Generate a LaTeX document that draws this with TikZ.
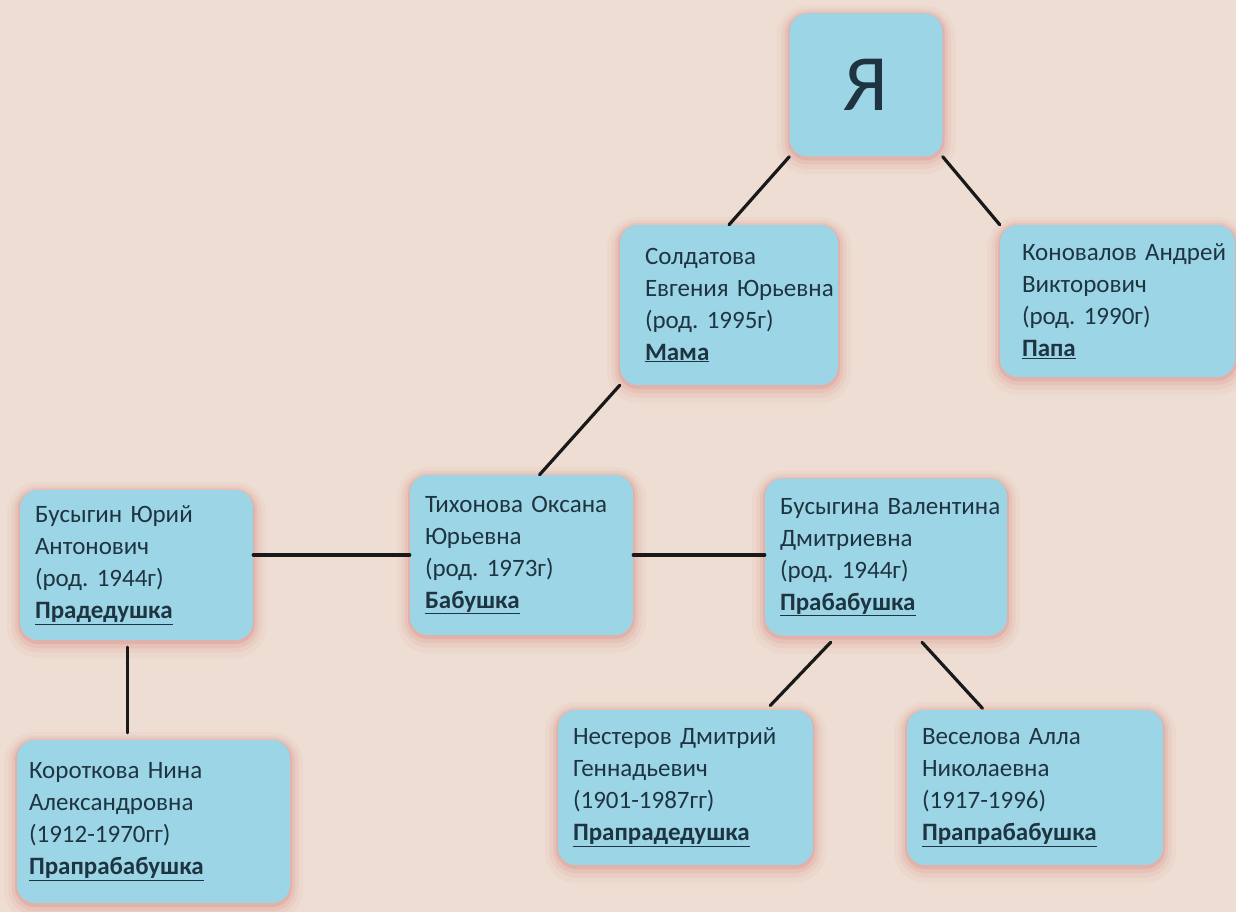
\documentclass[tikz,border=0pt]{standalone}
\usepackage{fontspec}
\setmainfont{Carlito}
\usepackage{xcolor}
\usepackage{tikz}
\usetikzlibrary{positioning, calc}
\definecolor{bgpaper}{HTML}{EEDDD3}
\definecolor{boxblue}{HTML}{9CD6E6}
\definecolor{glowred}{HTML}{D98A84}
\definecolor{inkblue}{HTML}{1F3441}
\tikzset{
  person/.style={rounded corners=18pt, fill=boxblue, text=inkblue, align=left, inner xsep=15pt,
    font=\fontsize{25}{32}\selectfont,
    preaction={draw=glowred, line width=26pt, opacity=0.07, transform canvas={yshift=-5pt}},
    preaction={draw=glowred, line width=17pt, opacity=0.11, transform canvas={yshift=-4pt}},
    preaction={draw=glowred, line width=10pt, opacity=0.17, transform canvas={yshift=-3pt}},
    preaction={draw=glowred, line width=4pt, opacity=0.3, transform canvas={yshift=-2pt}}},
  link/.style={draw=black!90, line width=3.2pt, line cap=round}
}
\newcommand{\person}[4]{#1\\#2\\#3\\\textbf{\underline{#4}}}
\frenchspacing

\begin{document}
\begin{tikzpicture}[x=1pt, y=-1pt]
        % Background
        \fill[bgpaper] (0,0) rectangle (1236,912);
        \useasboundingbox (0,0) rectangle (1236,912);

        % Me
        \node[person, minimum width=153pt, minimum height=143pt, inner sep=0pt,
              font=\fontsize{80}{80}\selectfont] (me) at (866,85) {Я};

        % Parents
        \node[person, text width=168pt, inner xsep=25pt, minimum height=160pt] (mama) at (729,305)
             {\person{Солдатова}{Евгения~Юрьевна}{(род. 1995г)}{Мама}};
        \node[person, text width=191pt, inner xsep=22pt, minimum height=152pt] (papa) at (1117.5,301)
             {\person{Коновалов~Андрей}{Викторович}{(род. 1990г)}{Папа}};

        % Grandmother and her parents
        \node[person, text width=193pt, minimum height=160pt] (babushka) at (521.5,555)
             {\person{Тихонова~Оксана}{Юрьевна}{(род. 1973г)}{Бабушка}};
        \node[person, text width=203pt, minimum height=150pt] (praded) at (136.5,565)
             {\person{Бусыгин~Юрий}{Антонович}{(род. 1944г)}{Прадедушка}};
        \node[person, text width=212pt, minimum height=157pt] (prababushka) at (886,557)
             {\person{Бусыгина~Валентина}{Дмитриевна}{(род. 1944г)}{Прабабушка}};

        % Great-great-grandparents
        \node[person, text width=225pt, minimum height=155pt] (nesterov) at (685.5,787.5)
             {\person{Нестеров~Дмитрий}{Геннадьевич}{(1901-1987гг)}{Прапрадедушка}};
        \node[person, text width=226pt, minimum height=155pt] (veselova) at (1035,787.5)
             {\person{Веселова~Алла}{Николаевна}{(1917-1996)}{Прапрабабушка}};
        \node[person, text width=249pt, inner xsep=12pt, minimum height=163pt] (korotkova) at (153.5,821.5)
             {\person{Короткова~Нина}{Александровна}{(1912-1970гг)}{Прапрабабушка}};

        % Links
        \draw[link] (me.south west) -- (mama.north);
        \draw[link] (me.south east) -- (papa.north west);
        \draw[link] (mama.south west) -- ($(babushka.north)+(18,0)$);
        \draw[link] (babushka.west) -- (babushka.west -| praded.east);
        \draw[link] (babushka.east) -- (babushka.east -| prababushka.west);

        \coordinate (pradedfoot) at ($(praded.south)+(-9,0)$);
        \draw[link, shorten <=7pt, shorten >=7pt] (pradedfoot) -- (pradedfoot |- korotkova.north);
        \draw[link, shorten <=9pt, shorten >=6pt] ($(prababushka.south)+(-49,0)$) -- ($(nesterov.north east)+(-47,0)$);
        \draw[link, shorten <=9pt, shorten >=2pt] ($(prababushka.south)+(30,0)$) -- ($(veselova.north west)+(77,0)$);
    \end{tikzpicture}
\end{document}
